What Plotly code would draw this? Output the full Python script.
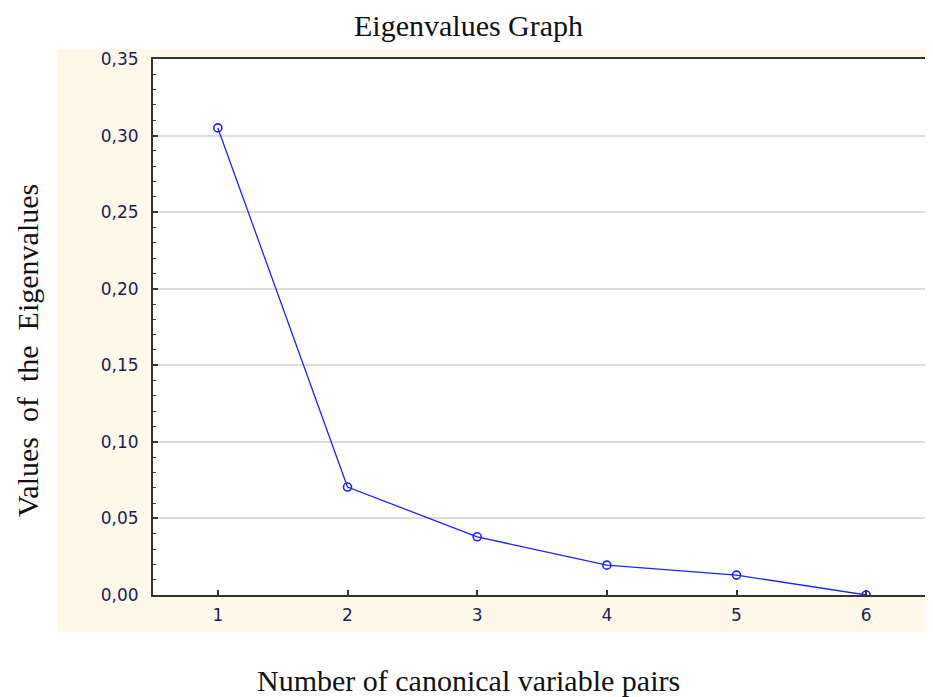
import plotly.graph_objects as go

pairs = [1, 2, 3, 4, 5, 6]
eigenvalues = [0.305, 0.0705, 0.038, 0.0195, 0.013, 0.0]
y_ticks = [0.0, 0.05, 0.10, 0.15, 0.20, 0.25, 0.30, 0.35]
y_tick_labels = ["0,00", "0,05", "0,10", "0,15", "0,20", "0,25", "0,30", "0,35"]

OFF = 8  # page body margin
W, H = 933 - OFF, 697 - OFF
L, T = 153 - OFF, 59 - OFF
R = W - (931 - OFF)
B = H - (595 - OFF)
pw, ph = W - L - R, H - T - B

def px_x(x):
    return (x - OFF - L) / pw

def px_y(y):
    return (H - B - (y - OFF)) / ph

line_col = "#2020FF"
tick_font = dict(family="DejaVu Sans, Verdana", size=17, color="#202050")
serif = dict(family="Liberation Serif, Times New Roman", size=30, color="#111111")

fig = go.Figure()
fig.add_trace(go.Scatter(
    x=pairs, y=eigenvalues, mode="lines+markers",
    line=dict(color=line_col, width=1.3),
    marker=dict(symbol="circle-open", size=8, color=line_col, line=dict(width=1.6, color=line_col)),
    showlegend=False, hoverinfo="x+y",
))
fig.add_trace(go.Scatter(
    x=pairs, y=eigenvalues, yaxis="y2", mode="lines",
    line=dict(width=0), opacity=0, showlegend=False, hoverinfo="skip",
))

fig.update_layout(
    width=W, height=H,
    margin=dict(l=L, r=R, t=T, b=B),
    paper_bgcolor="white", plot_bgcolor="white",
    xaxis=dict(
        range=[0.5, 6.5], tickvals=pairs, ticktext=[str(p) for p in pairs],
        ticks="inside", ticklen=5, tickwidth=1.5, tickcolor="#333333",
        showline=True, linecolor="#333333", linewidth=2, mirror=True,
        showgrid=False, zeroline=False, tickfont=tick_font, ticklabelstandoff=4,
    ),
    yaxis=dict(
        range=[0, 0.35], tickvals=y_ticks, ticktext=y_tick_labels,
        ticks="inside", ticklen=5, tickwidth=1.5, tickcolor="#333333",
        minor=dict(dtick=0.01, ticks="inside", ticklen=3, tickwidth=1.2, tickcolor="#333333", showgrid=False),
        showline=True, linecolor="#333333", linewidth=2,
        showgrid=True, gridcolor="#DDDDDD", gridwidth=1.5,
        zeroline=False, tickfont=tick_font, ticklabelstandoff=9,
    ),
    yaxis2=dict(
        overlaying="y", side="right", matches="y", range=[0, 0.35],
        tickvals=y_ticks, showticklabels=False,
        ticks="inside", ticklen=5, tickwidth=1.5, tickcolor="#333333",
        minor=dict(dtick=0.01, ticks="inside", ticklen=3, tickwidth=1.2, tickcolor="#333333", showgrid=False),
        showline=False, showgrid=False, zeroline=False,
    ),
    shapes=[dict(
        type="rect", xref="paper", yref="paper",
        x0=px_x(57), x1=px_x(945), y0=px_y(632), y1=px_y(49),
        fillcolor="#FFF9EC", line=dict(width=0), layer="below",
    ), dict(
        type="rect", xref="paper", yref="paper",
        x0=0, x1=1, y0=0, y1=1,
        fillcolor="white", line=dict(width=0), layer="below",
    )],
    annotations=[
        dict(text="Eigenvalues Graph", xref="paper", yref="paper",
             x=px_x(468), y=px_y(25.5), xanchor="center", yanchor="middle",
             showarrow=False, font=serif),
        dict(text="Number of canonical variable pairs", xref="paper", yref="paper",
             x=px_x(468.5), y=px_y(680), xanchor="center", yanchor="middle",
             showarrow=False, font=serif),
        dict(text="Values\u00a0 of\u00a0 the\u00a0 Eigenvalues", xref="paper", yref="paper",
             x=px_x(27), y=px_y(351), xanchor="center", yanchor="middle",
             textangle=-90, showarrow=False, font=serif),
    ],
)

fig.write_html("out.html")
